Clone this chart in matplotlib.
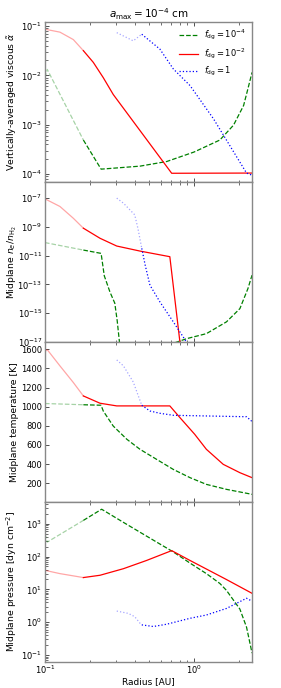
import numpy as np
import matplotlib
matplotlib.use("Agg")
import matplotlib.pyplot as plt
from matplotlib.ticker import NullLocator, LogLocator

# ---------------- data ----------------
# Panel 1: vertically-averaged viscous alpha
alpha_r_g = [0.1, 0.1036, 0.181, 0.238, 0.434, 0.656, 1.0, 1.49, 1.84, 2.15, 2.3, 2.45]
alpha_g = [0.0089, 0.0132, 4.9e-4, 1.26e-4, 1.45e-4, 1.8e-4, 2.8e-4, 4.9e-4, 9.8e-4, 2.45e-3, 5.4e-3, 1.15e-2]
alpha_r_r = [0.1, 0.126, 0.155, 0.181, 0.211, 0.246, 0.287, 0.708, 2.45]
alpha_r = [0.086, 0.075, 0.053, 0.0316, 0.0183, 0.0090, 0.0041, 1.04e-4, 1.05e-4]
alpha_r_b = [0.303, 0.391, 0.446, 0.59, 0.726, 0.94, 1.35, 2.25, 2.45]
alpha_b = [0.0733, 0.050, 0.068, 0.034, 0.0135, 0.0062, 0.00132, 1.05e-4, 9.5e-5]

# Panel 2: midplane n_e / n_H2 (log10 values)
ne_r_g = [0.1, 0.181, 0.238, 0.250, 0.273, 0.294, 0.305, 0.316, 0.33, 0.5, 0.70, 0.745, 0.89, 1.21, 1.65, 2.03, 2.3, 2.45]
ne_g = [-10.09, -10.61, -10.84, -12.4, -13.53, -14.3, -15.5, -17.0, -19.0, -20.0, -17.5, -17.05, -16.77, -16.42, -15.6, -14.68, -13.28, -12.35]
ne_r_r = [0.1, 0.126, 0.155, 0.181, 0.234, 0.303, 0.434, 0.688, 0.804, 0.83]
ne_r = [-7.05, -7.58, -8.40, -9.09, -9.79, -10.33, -10.68, -11.07, -17.0, -18.2]
ne_r_b = [0.303, 0.336, 0.40, 0.42, 0.446, 0.47, 0.506, 0.59, 0.726, 0.89, 0.95]
ne_b = [-7.0, -7.35, -8.16, -9.09, -10.49, -11.65, -13.05, -14.21, -15.6, -17.0, -17.6]

# Panel 3: midplane temperature [K]
T_r_g = [0.1, 0.181, 0.238, 0.246, 0.287, 0.354, 0.434, 0.561, 0.726, 0.94, 1.21, 1.65, 2.45]
T_g = [1033, 1020, 1015, 955, 798, 660, 555, 450, 345, 259, 189, 137, 85]
T_r_r = [0.1, 0.1036, 0.126, 0.155, 0.181, 0.234, 0.303, 0.688, 0.804, 1.01, 1.21, 1.57, 2.03, 2.45]
T_r = [1575, 1595, 1426, 1252, 1112, 1036, 1008, 1008, 886, 712, 555, 398, 311, 259]
T_r_b = [0.303, 0.336, 0.391, 0.423, 0.446, 0.506, 0.59, 0.726, 1.21, 2.25, 2.45]
T_b = [1488, 1426, 1258, 1112, 1015, 955, 931, 910, 903, 895, 845]

# Panel 4: midplane pressure [dyn cm^-2] (log10 values)
P_r_g = [0.1, 0.1036, 0.181, 0.24, 0.336, 0.434, 0.561, 0.726, 0.94, 1.21, 1.49, 1.65, 2.03, 2.25, 2.45]
P_g = [2.69, 2.44, 3.10, 3.44, 3.04, 2.74, 2.44, 2.14, 1.80, 1.48, 1.18, 0.97, 0.40, -0.15, -0.94]
P_r_r = [0.1, 0.126, 0.181, 0.234, 0.336, 0.48, 0.708, 0.94, 1.21, 1.65, 2.45]
P_r = [1.58, 1.48, 1.36, 1.43, 1.63, 1.88, 2.18, 1.88, 1.62, 1.30, 0.88]
P_r_b = [0.303, 0.362, 0.40, 0.434, 0.446, 0.533, 0.656, 0.94, 1.21, 1.65, 2.25, 2.45]
P_b = [0.34, 0.27, 0.17, -0.03, -0.08, -0.13, -0.06, 0.12, 0.22, 0.42, 0.73, 0.64]

labels = [r"$f_{\rm dg} = 10^{-4}$", r"$f_{\rm dg} = 10^{-2}$", r"$f_{\rm dg} = 1$"]
fade_edge = [0.181, 0.181, 0.446]

# ---------------- styling ----------------
colors = ["green", "red", "blue"]
styles = ["--", "-", ":"]
lw = 0.9

fig, axes = plt.subplots(4, 1, figsize=(2.81, 6.88), dpi=100, sharex=True)
fig.subplots_adjust(left=0.160, right=0.897, bottom=0.0378, top=0.968, hspace=0)


def faded_plot(ax, r, y, edge, color, ls, label=None):
    r = np.asarray(r, float)
    y = np.asarray(y, float)
    m1 = r <= edge * 1.0001
    m2 = r >= edge * 0.9999
    ax.plot(r[m1], y[m1], color=color, ls=ls, lw=lw, alpha=0.35)
    ax.plot(r[m2], y[m2], color=color, ls=ls, lw=lw, label=label)


panels = [
    ([alpha_r_g, alpha_r_r, alpha_r_b], [alpha_g, alpha_r, alpha_b], False),
    ([ne_r_g, ne_r_r, ne_r_b], [ne_g, ne_r, ne_b], True),
    ([T_r_g, T_r_r, T_r_b], [T_g, T_r, T_b], False),
    ([P_r_g, P_r_r, P_r_b], [P_g, P_r, P_b], True),
]

for i, (ax, (rs, ys, islog10)) in enumerate(zip(axes, panels)):
    for k in range(3):
        yv = np.asarray(ys[k], float)
        if islog10:
            yv = 10.0 ** yv
        faded_plot(ax, rs[k], yv, fade_edge[k], colors[k], styles[k],
                   label=labels[k] if i == 0 else None)

for ax in axes:
    ax.set_xscale("log")
    ax.set_xlim(0.1, 2.45)
    for s in ax.spines.values():
        s.set_color("#888888")
        s.set_linewidth(1.0)
    ax.tick_params(which="both", direction="in", top=True, right=False,
                   labelsize=6, color="#333333", pad=2)
    ax.tick_params(which="major", length=3, width=0.6)
    ax.tick_params(which="minor", length=1.8, width=0.5)
    ax.tick_params(axis="x", which="both", pad=1)

ax1, ax2, ax3, ax4 = axes
ax1.set_yscale("log")
ax1.set_ylim(10 ** -4.16, 10 ** -0.92)
ax1.set_ylabel(r"Vertically-averaged viscous $\tilde{\alpha}$", fontsize=6.7)
ax1.set_title(r"$a_{\rm max} = 10^{-4}$ cm", fontsize=7.5, pad=3)
ax1.legend(loc="upper right", frameon=False, fontsize=6, handlelength=2.2,
           borderaxespad=0.3, labelspacing=0.5)

ax2.set_yscale("log")
ax2.set_ylim(1e-17, 10 ** -5.88)
ax2.set_yticks([1e-17, 1e-15, 1e-13, 1e-11, 1e-9, 1e-7])
ax2.yaxis.set_minor_locator(NullLocator())
ax2.set_ylabel(r"Midplane $n_e/n_{\rm H_2}$", fontsize=6.7)

ax3.set_ylim(5, 1675)
ax3.set_yticks([200, 400, 600, 800, 1000, 1200, 1400, 1600])
ax3.set_ylabel("Midplane temperature [K]", fontsize=6.7)

ax4.set_yscale("log")
ax4.set_ylim(10 ** -1.21, 10 ** 3.66)
ax4.set_yticks([1e-1, 1e0, 1e1, 1e2, 1e3])
ax4.yaxis.set_minor_locator(LogLocator(base=10, subs=np.arange(2, 10)))
ax4.set_ylabel(r"Midplane pressure [dyn cm$^{-2}$]", fontsize=6.7)
ax4.set_xlabel("Radius [AU]", fontsize=6.5, labelpad=1)

for ax in axes:
    ax.yaxis.set_label_coords(-0.125, 0.5)

fig.savefig("out.png", dpi=100)
